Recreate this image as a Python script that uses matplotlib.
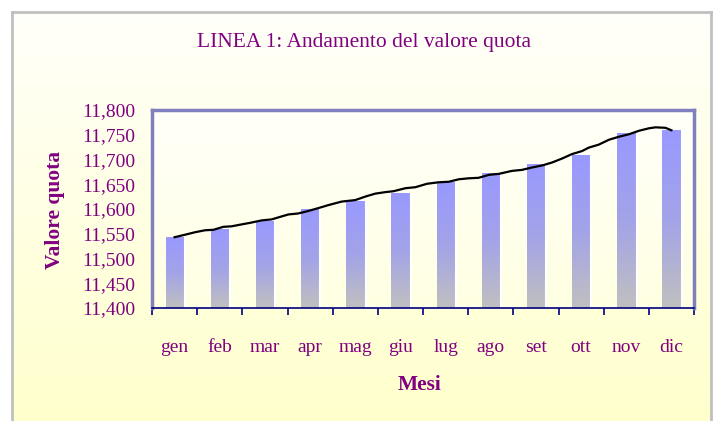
import matplotlib.pyplot as plt
import numpy as np
from matplotlib.colors import LinearSegmentedColormap

# Dati: valore quota mensile (barre)
mesi = ["gen", "feb", "mar", "apr", "mag", "giu", "lug", "ago", "set", "ott", "nov", "dic"]
valori_mensili = [11543, 11558, 11575, 11599, 11616, 11631, 11653, 11672, 11689, 11709, 11753, 11758]

# Andamento settimanale (linea), posizione in mesi dall'inizio
pos_linea = [0.0, 0.23, 0.45, 0.67, 0.86, 1.08, 1.26, 1.49, 1.67, 1.93, 2.15, 2.37, 2.52,
             2.74, 2.96, 3.19, 3.41, 3.70, 4.0, 4.22, 4.44, 4.66, 4.85, 5.11, 5.33, 5.59,
             5.85, 6.07, 6.29, 6.51, 6.73, 6.96, 7.18, 7.47, 7.69, 7.92, 8.14, 8.36, 8.58,
             8.80, 9.02, 9.17, 9.39, 9.62, 9.84, 10.06, 10.28, 10.50, 10.65, 10.87, 11.0]
valori_linea = [11543, 11548, 11553, 11557, 11558, 11564, 11565, 11569, 11572, 11577, 11579,
                11585, 11589, 11591, 11596, 11602, 11608, 11615, 11618, 11625, 11631, 11634,
                11636, 11642, 11644, 11651, 11654, 11655, 11660, 11662, 11663, 11669, 11671,
                11677, 11679, 11684, 11688, 11694, 11702, 11711, 11717, 11724, 11730, 11740,
                11746, 11751, 11758, 11763, 11765, 11764, 11759]

viola = "#800080"
font = ["Liberation Serif", "DejaVu Serif"]

fig = plt.figure(figsize=(7.14, 4.21), dpi=100)
fig.patch.set_facecolor("white")

# sfondo con sfumatura e cornice grigia
bg = fig.add_axes([12 / 714, 0, (711 - 12) / 714, (421 - 12) / 421])
sfondo = LinearSegmentedColormap.from_list("sf", ["#FFFFFA", "#FFFFCC"])
bg.imshow(np.linspace(0, 1, 256).reshape(-1, 1), aspect="auto", cmap=sfondo,
          extent=[0, 1, 0, 1], origin="upper")
bg.set_xticks([])
bg.set_yticks([])
for lato in ["left", "top", "right"]:
    bg.spines[lato].set_color("#C0C0C0")
    bg.spines[lato].set_linewidth(2)
bg.spines["bottom"].set_visible(False)

ax = fig.add_axes([152 / 714, 1 - 308 / 421, (694 - 152) / 714, 198 / 421])
ax.set_xlim(-0.5, 11.5)
ax.set_ylim(11400, 11800)

# sfondo area del grafico
area = LinearSegmentedColormap.from_list("ar", ["#FFFFFA", "#FFFFE2"])
ax.imshow(np.linspace(0, 1, 256).reshape(-1, 1), aspect="auto", cmap=area,
          extent=[-0.5, 11.5, 11400, 11800], origin="upper", zorder=0)

# barre con sfumatura blu -> grigio
barre_cm = LinearSegmentedColormap.from_list("bar", ["#9999FF", "#A3A3E8", "#C0C0C0"])
larghezza = 0.4
x = np.arange(len(mesi))
for xi, v in zip(x, valori_mensili):
    ax.imshow(np.linspace(0, 1, 256).reshape(-1, 1), aspect="auto", cmap=barre_cm,
              extent=[xi - larghezza / 2, xi + larghezza / 2, 11400, v], origin="upper", zorder=2)
    ax.plot([xi + larghezza / 2 + 0.03] * 2, [11400, v], color="white", lw=1.5, zorder=2)

ax.plot(pos_linea, valori_linea, color="black", lw=1.6, zorder=3)

ax.set_xlim(-0.5, 11.5)
ax.set_ylim(11400, 11800)

# assi
for lato in ["left", "top", "right"]:
    ax.spines[lato].set_color("#8080C0")
    ax.spines[lato].set_linewidth(2.5)
ax.spines["bottom"].set_color("#000080")
ax.spines["bottom"].set_linewidth(1.2)

ax.set_yticks(np.arange(11400, 11801, 50))
ax.set_yticklabels([f"{v:,}" for v in range(11400, 11801, 50)], fontsize=14,
                   color=viola, family=font)
ax.tick_params(axis="y", length=0, pad=12)

ax.set_xticks(np.arange(-0.5, 12, 1))
ax.set_xticklabels([])
ax.set_xticks(x, minor=True)
ax.set_xticklabels(mesi, minor=True, fontsize=14, color=viola, family=font)
ax.tick_params(axis="x", which="major", length=5, color="#000080", width=1.2)
ax.tick_params(axis="x", which="minor", length=0, pad=22)

fig.text(364 / 714, 1 - 42 / 421, "LINEA 1: Andamento del valore quota", ha="center", va="center",
         fontsize=15.5, color=viola, family=font)
fig.text(420 / 714, 1 - 385 / 421, "Mesi", ha="center", va="center",
         fontsize=15.5, color=viola, family=font, fontweight="bold")
fig.text(55 / 714, 1 - 210 / 421, "Valore quota", rotation=90, ha="center", va="center",
         fontsize=15.5, color=viola, family=font, fontweight="bold")

fig.savefig("out.png", dpi=100)
